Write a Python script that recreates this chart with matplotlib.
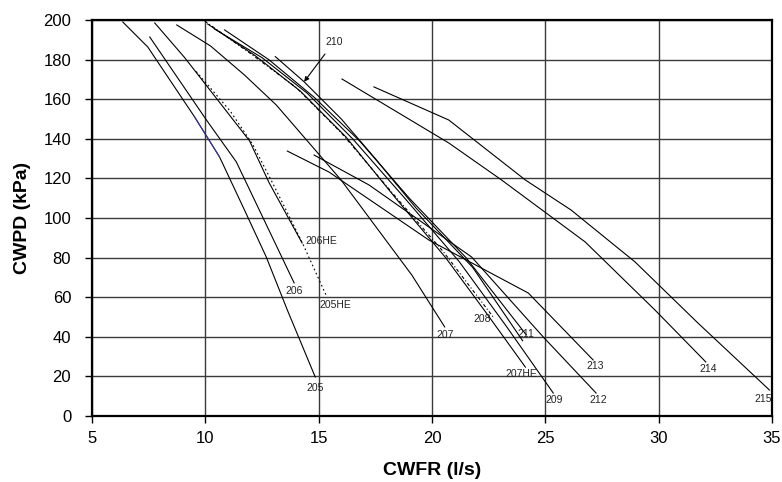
import matplotlib
matplotlib.use("Agg")
import matplotlib.pyplot as plt

plt.rcParams["font.family"] = ["Liberation Sans", "DejaVu Sans"]

# ---- data (x = CWFR l/s, y = CWPD kPa) ----
x205 = [6.36, 7.46, 9.53, 10.63, 11.73, 12.69, 13.62, 14.85]
y205 = [199.0, 186.4, 151.0, 130.8, 104.0, 80.3, 53.5, 19.7]

x206 = [7.55, 10.05, 11.37, 13.92]
y206 = [191.4, 149.5, 128.3, 67.2]

x206he = [7.77, 9.09, 11.95, 12.82, 14.27]
y206he = [198.5, 181.0, 139.0, 117.7, 87.4]

x205he = [9.6, 11.1, 12.1, 13.0, 14.3, 15.37]
y205he = [174.0, 154.0, 137.0, 117.0, 87.0, 60.0]

x207 = [8.74, 10.23, 11.73, 13.13, 14.58, 15.99, 19.11, 20.56]
y207 = [197.5, 186.9, 172.2, 157.1, 137.9, 119.2, 71.2, 45.0]

x208 = [9.97, 12.0, 14.0, 16.0, 18.3, 20.5, 22.7]
y208 = [199.5, 183.0, 166.0, 143.0, 112.0, 83.0, 50.0]

x207he = [10.1, 12.2, 14.2, 16.2, 18.4, 20.6, 22.4, 24.12]
y207he = [198.0, 182.0, 164.0, 141.0, 110.0, 80.0, 52.0, 24.7]

x209 = [10.4, 12.5, 14.5, 16.5, 18.8, 21.2, 23.3, 25.35]
y209 = [195.5, 181.0, 163.0, 140.0, 110.0, 78.0, 45.0, 11.6]

x211 = [10.85, 12.8, 14.8, 16.8, 19.0, 21.5, 24.16]
y211 = [195.0, 180.0, 161.0, 139.0, 110.0, 80.0, 41.0]

x210 = [13.09, 14.36, 16.0, 17.5, 19.3, 21.8, 24.0]
y210 = [181.5, 168.8, 150.0, 130.0, 105.0, 75.0, 38.0]

x212 = [14.8, 17.22, 21.75, 24.91, 27.24]
y212 = [131.8, 116.7, 80.3, 39.9, 11.6]

x213 = [13.62, 15.46, 19.86, 24.25, 27.11]
y213 = [133.8, 123.2, 88.9, 62.1, 28.3]

x214 = [16.03, 20.74, 23.07, 26.76, 29.84, 32.08]
y214 = [170.2, 137.9, 119.2, 87.9, 53.5, 27.3]

x215 = [17.44, 20.74, 24.12, 26.14, 28.96, 31.73, 34.89]
y215 = [166.2, 149.5, 119.2, 104.0, 77.8, 47.0, 13.1]

x_ticks = [5, 10, 15, 20, 25, 30, 35]
y_ticks = [0, 20, 40, 60, 80, 100, 120, 140, 160, 180, 200]

series = [
    ("205", x205, y205, "-"),
    ("206", x206, y206, "-"),
    ("206HE", x206he, y206he, "-"),
    ("205HE", x205he, y205he, (0, (1.5, 2.5))),
    ("207", x207, y207, "-"),
    ("208", x208, y208, (0, (3, 2, 1, 2))),
    ("207HE", x207he, y207he, "-"),
    ("209", x209, y209, "-"),
    ("211", x211, y211, "-"),
    ("210", x210, y210, "-"),
    ("212", x212, y212, "-"),
    ("213", x213, y213, "-"),
    ("214", x214, y214, "-"),
    ("215", x215, y215, "-"),
]

# label placement at the line end: (dx px, dy px, ha, va)
label_pos = {
    "205": (0, -6, "center", "top"),
    "206": (0, -3, "center", "top"),
    "206HE": (3, 2, "left", "center"),
    "205HE": (-8, -3, "left", "top"),
    "207": (0, -3, "center", "top"),
    "208": (-2, -2, "right", "center"),
    "207HE": (-4, -2, "center", "top"),
    "209": (1, -2, "center", "top"),
    "211": (0, 1, "center", "center"),
    "212": (2, -2, "center", "top"),
    "213": (2, -1, "center", "top"),
    "214": (2, -2, "center", "top"),
    "215": (-6, -4, "center", "top"),
}

fig = plt.figure(figsize=(7.82, 4.82), dpi=100)
ax = fig.add_axes([0.1176, 0.1369, 0.8696, 0.8216])

for name, xs, ys, ls in series:
    ax.plot(xs, ys, color="black", lw=0.8, ls=ls, zorder=3)
    if name in label_pos:
        dx, dy, ha, va = label_pos[name]
        ax.annotate(name, (xs[-1], ys[-1]), xytext=(dx, dy),
                    textcoords="offset pixels", ha=ha, va=va,
                    fontsize=7.5, color="#222222", zorder=4)

# short blue stretch on 205 as in the original
ax.plot(x205[2:4], y205[2:4], color="#3a3aa8", lw=0.8, zorder=4)

ax.annotate("210", xy=(x210[1], y210[1]), xytext=(30, 40),
            textcoords="offset pixels", ha="center", va="center",
            fontsize=7.5, color="#222222",
            arrowprops=dict(arrowstyle="-|>", color="black", lw=0.8,
                            mutation_scale=7, shrinkA=4, shrinkB=0))

ax.set_xlim(5, 35)
ax.set_ylim(0, 200)
ax.set_xticks(x_ticks)
ax.set_yticks(y_ticks)
ax.tick_params(direction="out", length=5, width=1, labelsize=12)
ax.tick_params(axis="y", pad=10)
ax.tick_params(axis="x", pad=6)
ax.grid(True, color="#3a3a3a", lw=1.0, zorder=1)
ax.set_axisbelow(True)
for sp in ax.spines.values():
    sp.set_linewidth(1.6)
    sp.set_color("black")

ax.set_xlabel("CWFR (l/s)", fontsize=14, fontweight="bold", labelpad=11)
ax.set_ylabel("CWPD (kPa)", fontsize=14, fontweight="bold", labelpad=9)

fig.savefig("out.png", dpi=100)
